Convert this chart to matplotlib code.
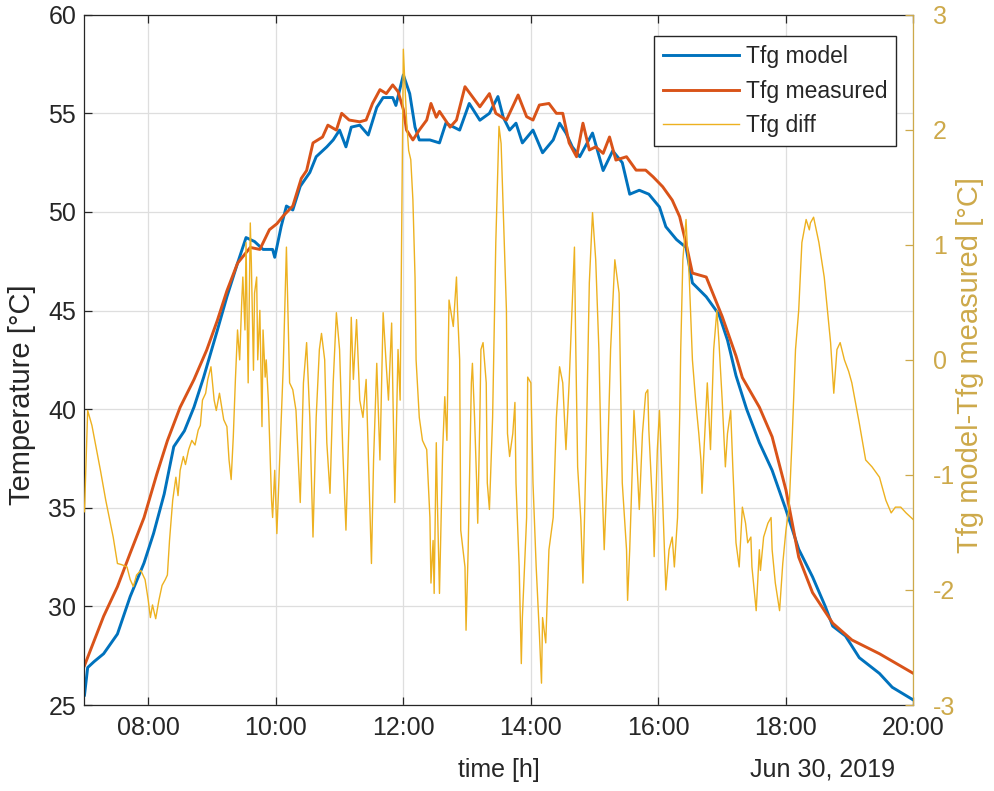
import numpy as np
import matplotlib
matplotlib.use("Agg")
import matplotlib.pyplot as plt
import matplotlib.dates as mdates

plt.rcParams["font.family"] = ["Liberation Sans", "DejaVu Sans"]
plt.rcParams["axes.unicode_minus"] = False

# Day of the measurement; all series are given in minutes after 07:00
day_start = np.datetime64("2019-06-30T07:00")

# Tfg model [°C]
model_min = [0, 3, 9, 18, 31, 43, 56, 65, 75, 84,
             94, 103, 112, 125, 134, 144, 152, 160, 168, 177,
             179, 185, 190, 196, 203, 212, 218, 228, 234, 240,
             246, 251, 259, 267, 275, 281, 290, 293, 300, 306,
             311, 315, 325, 334, 340, 353, 362, 372, 381, 389,
             394, 400, 406, 412, 422, 431, 441, 447, 453, 459,
             466, 478, 488, 497, 506, 513, 522, 531, 541, 547,
             557, 566, 572, 585, 597, 605, 613, 623, 635, 647,
             660, 672, 685, 697, 704, 716, 729, 748, 760, 780]
model_temp = [25.5, 26.9, 27.2, 27.6, 28.6, 30.5, 32.2, 33.7, 35.7, 38.1,
              38.9, 40.1, 41.6, 44.0, 45.7, 47.4, 48.7, 48.5, 48.1, 48.1,
              47.7, 49.25, 50.3, 50.1, 51.3, 52.0, 52.8, 53.3, 53.65, 54.15,
              53.3, 54.3, 54.4, 53.9, 55.3, 55.8, 55.8, 55.4, 56.95, 56.0,
              54.3, 53.65, 53.65, 53.5, 54.5, 54.15, 55.5, 54.65, 55.0, 55.85,
              54.8, 54.15, 54.5, 53.5, 54.15, 53.0, 53.65, 54.5, 54.0, 53.3,
              52.8, 54.0, 52.1, 53.1, 52.5, 50.9, 51.1, 50.9, 50.25, 49.25,
              48.6, 48.2, 46.4, 45.7, 44.8, 43.5, 41.7, 40.0, 38.3, 36.9,
              34.9, 32.9, 31.5, 30.0, 29.0, 28.5, 27.4, 26.6, 25.9, 25.25]

# Tfg measured [°C]
meas_min = [0, 18, 31, 43, 56, 68, 78, 90, 103, 115,
            125, 134, 144, 156, 165, 174, 181, 187, 196, 204,
            209, 215, 224, 229, 237, 242, 249, 259, 265, 271,
            278, 284, 290, 295, 300, 303, 309, 315, 322, 326,
            331, 334, 344, 350, 358, 365, 372, 381, 387, 397,
            408, 416, 422, 428, 437, 444, 450, 456, 463, 469,
            475, 481, 488, 494, 500, 510, 519, 528, 535, 544,
            553, 560, 566, 572, 585, 591, 600, 613, 619, 635,
            647, 660, 672, 685, 704, 722, 748, 780]
meas_temp = [27.0, 29.5, 31.0, 32.7, 34.5, 36.7, 38.4, 40.1, 41.5, 43.0,
             44.5, 46.0, 47.4, 48.2, 48.1, 49.1, 49.4, 49.8, 50.3, 51.7,
             52.1, 53.5, 53.8, 54.4, 54.15, 55.0, 54.66, 54.57, 54.66, 55.5,
             56.2, 56.0, 56.44, 56.1, 55.2, 54.15, 53.65, 54.15, 54.66, 55.5,
             54.8, 55.1, 54.3, 54.66, 56.35, 55.84, 55.33, 56.0, 55.0, 54.66,
             55.93, 54.83, 54.66, 55.42, 55.5, 55.0, 55.0, 53.5, 52.8, 54.5,
             53.14, 53.3, 52.97, 53.8, 52.63, 52.8, 52.12, 52.12, 51.78, 51.28,
             50.6, 49.76, 48.4, 46.9, 46.7, 45.9, 44.7, 42.7, 41.6, 40.1,
             38.6, 35.9, 32.5, 30.7, 29.15, 28.3, 27.6, 26.6]

# Tfg diff, model minus measured [°C]
diff_min = [0, 3, 7, 15, 20, 27, 31, 35, 40, 43, 46, 49, 53, 57, 60, 62, 64, 67, 70, 73,
            76, 78, 80, 83, 86, 88, 90, 93, 95, 98, 101, 104, 107, 109, 111, 114, 116, 119, 122, 124,
            127, 131, 134, 136, 138, 140, 142, 144,
            146, 148, 149, 151, 152, 154, 156, 157, 159, 160, 162, 163, 165, 167, 168, 170, 171, 173,
            176, 177, 179, 181,
            184, 187, 190, 193, 196, 199, 203, 206, 209, 212, 215, 218, 221, 223, 226, 228, 231, 234,
            237, 240, 243, 246, 249, 251, 253, 256, 259, 262, 265, 268, 270, 272, 275, 278, 281, 284,
            286, 289, 292, 295, 297, 300,
            303, 305, 307, 309, 311, 312, 315, 318, 322, 325, 326, 328, 329, 331, 332, 334, 337, 339,
            341, 343, 347, 350, 351, 353, 354, 358, 359, 361, 364, 365, 367, 369, 370, 372, 373, 375,
            378, 379, 381, 383, 384, 387, 390, 392, 395, 397, 398, 400, 403, 405, 406, 409, 411, 412,
            416, 417, 420,
            422, 425, 428, 430, 431, 434, 437, 441, 444, 447, 450, 453, 456, 459, 461, 462, 464, 467,
            469, 472, 475, 478, 481, 484, 486, 489, 492, 495, 499, 503, 506, 510, 511, 513, 516, 517,
            520, 522, 525, 528, 530, 531, 535, 536, 539, 541, 544, 547, 550, 553, 555, 558, 560, 561,
            563, 566, 567, 569, 572, 575, 578, 580, 581, 583, 586, 589, 592, 595, 597, 600, 603, 605,
            608, 610, 613, 616, 619, 622, 624, 627, 628, 632, 635, 636, 639, 643, 646, 647, 650, 654,
            657, 660, 663, 666, 669, 672, 675, 679, 682, 683, 686, 691, 696, 699, 702, 705, 708, 711,
            715, 719, 722, 729, 735, 741, 748, 754, 759, 763, 768, 773, 780]
diff_val = [-1.32, -0.44, -0.57, -0.96, -1.22, -1.54, -1.77, -1.78, -1.80, -1.91,
            -1.97, -1.87, -1.83, -1.91, -2.09, -2.24, -2.13, -2.25, -2.09, -1.96,
            -1.91, -1.87, -1.57, -1.22, -1.02, -1.18, -0.96, -0.84, -0.91, -0.78,
            -0.70, -0.74, -0.61, -0.57, -0.35, -0.29, -0.17, -0.06, -0.35, -0.44,
            -0.29, -0.52, -0.58, -0.87, -1.04, -0.67, -0.17, 0.26,
            0.00, 0.52, 0.72, 0.26, 1.02, -0.20, 1.19, 0.84, -0.09, 0.58,
            0.72, 0.00, 0.43, -0.58, 0.26, -0.15, 0.00, -0.35, -1.22, -1.37,
            -0.96, -1.51,
            -0.78, -0.06, 0.98, -0.20, -0.26, -0.44, -1.24, -0.20, 0.15, -0.50,
            -1.54, -0.50, 0.09, 0.23, 0.00, -0.72, -1.16, -0.20, 0.41, 0.09,
            -0.78, -1.48, -0.50, 0.37, -0.17, 0.35, -0.35, -0.50, -0.17, -1.13,
            -1.77, -0.87, -0.03, -0.87, 0.41, -0.06, -0.35, 0.32, -1.24, 0.09,
            -0.35, 2.70,
            2.09, 1.82, 1.74, 1.39, 0.72, 0.00, -0.50, -0.70, -0.78, -1.37,
            -1.94, -1.57, -2.03, -0.72, -1.22, -2.03, -0.78, -0.32, -0.70, 0.52,
            0.29, 0.72, 0.43, 0.00, -1.48, -1.80, -2.35, -1.65, -0.20, -0.03,
            -0.50, -1.07, -1.42, -0.50, 0.09, 0.15, -0.20, -1.07, -1.30, -0.78,
            -0.50, 1.02, 2.03, 1.88, 1.02, 0.43, -0.64, -0.84, -0.64, -0.37,
            -1.07, -1.80, -2.64, -2.24, -1.37, -0.15, -0.20,
            -1.07, -1.80, -2.38, -2.81, -2.24, -2.46, -1.65, -1.37, -0.50, -0.06,
            -0.20, -0.78, -0.20, 0.52, 0.98, 0.26, -0.93, -1.39, -1.94, -0.78,
            0.67, 1.28, 0.87, 0.09, -0.78, -1.65, -0.93, 0.09, 0.87, 0.58,
            -1.07, -1.65, -2.09, -1.65, -0.78, -0.44, -0.93, -1.30, -0.64, -0.29,
            -0.26, -0.61, -1.37, -1.71, -0.78, -0.44, -1.22, -2.00, -1.65, -1.54,
            -1.80, -1.37, -0.50, 0.09,
            0.87, 1.22, 1.02, 0.72, 0.00, -0.35, -0.64, -0.87, -1.16, -0.76,
            -0.20, -0.78, 0.09, 0.43, 0.15, -0.35, -0.93, -0.64, -0.44, -0.93,
            -1.59, -1.80, -1.28, -1.42, -1.59, -1.54, -1.80, -2.18, -1.65, -1.83,
            -1.54, -1.42, -1.37, -1.65, -1.94, -2.18, -1.77, -1.48, -1.28, -0.64,
            0.09, 0.43, 1.02, 1.22, 1.13, 1.19, 1.24, 1.02, 0.72, 0.43,
            0.15, -0.29, 0.09, 0.15, 0.00, -0.10, -0.20, -0.55, -0.87, -0.93,
            -1.02, -1.22, -1.33, -1.28, -1.28, -1.33, -1.39]

legend_labels = ["Tfg model", "Tfg measured", "Tfg diff"]
hour_ticks = [8, 10, 12, 14, 16, 18, 20]


def as_time(minutes):
    return day_start + np.asarray(minutes, dtype="timedelta64[m]")


C_MODEL = "#0072BD"
C_MEAS = "#D95319"
C_DIFF = "#EDB120"
C_RIGHT = "#CDA94A"
C_AXIS = "#262626"

TICK_FS = 18
LABEL_FS = 21

fig = plt.figure(figsize=(9.94, 7.91), dpi=100)
ax = fig.add_axes([0.085, 0.1087, 0.834, 0.8727])
ax2 = ax.twinx()

l1, = ax.plot(as_time(model_min), model_temp, color=C_MODEL, lw=2.1)
l2, = ax.plot(as_time(meas_min), meas_temp, color=C_MEAS, lw=2.1)
l3, = ax2.plot(as_time(diff_min), diff_val, color=C_DIFF, lw=1.0)

ax.set_xlim(day_start, day_start + np.timedelta64(13 * 60, "m"))
ax.set_ylim(25, 60)
ax.set_yticks(range(25, 61, 5))
ax2.set_ylim(-3, 3)
ax2.set_yticks(range(-3, 4))

ax.xaxis.set_major_locator(mdates.HourLocator(byhour=hour_ticks))
ax.xaxis.set_major_formatter(mdates.DateFormatter("%H:%M"))

ax.grid(True, color="#DEDEDE", lw=0.9)
ax.set_axisbelow(True)

ax.tick_params(axis="both", direction="in", length=6, width=0.9,
               colors=C_AXIS, labelsize=TICK_FS, top=True, right=False)
ax.tick_params(axis="x", pad=8)
ax.tick_params(axis="y", pad=6)
ax2.tick_params(axis="y", direction="in", length=6, width=0.9,
                colors=C_RIGHT, labelsize=TICK_FS, pad=14)

for side in ("left", "bottom", "top"):
    ax.spines[side].set_color(C_AXIS)
    ax.spines[side].set_linewidth(0.9)
    ax2.spines[side].set_visible(False)
ax.spines["right"].set_visible(False)
ax2.spines["right"].set_color(C_RIGHT)
ax2.spines["right"].set_linewidth(0.9)

ax.set_xlabel("time [h]", fontsize=TICK_FS, color=C_AXIS)
ax.xaxis.set_label_coords(0.5, -0.094)
ax.xaxis.label.set_va("center")

ax.set_ylabel("Temperature [°C]", fontsize=LABEL_FS, color=C_AXIS)
ax.yaxis.set_label_coords(-0.0754, 0.449)
ax.yaxis.label.set_va("center")

ax2.set_ylabel("Tfg model-Tfg measured [°C]", fontsize=LABEL_FS, color=C_RIGHT)
ax2.yaxis.set_label_coords(1.068, 0.4925)
ax2.yaxis.label.set_va("center")

fig.text(822 / 994, 1 - 770 / 791, "Jun 30, 2019", ha="center", va="center",
         fontsize=TICK_FS, color=C_AXIS)

leg = ax2.legend([l1, l2, l3], legend_labels, loc="upper left",
                 bbox_to_anchor=(0.687, 0.969), borderaxespad=0,
                 fontsize=16.5, frameon=True, fancybox=False, framealpha=1,
                 edgecolor=C_AXIS, borderpad=0.4, handlelength=3.3,
                 handletextpad=0.3, labelspacing=0.5)
leg.get_frame().set_linewidth(1.0)
for txt in leg.get_texts():
    txt.set_color(C_AXIS)

fig.savefig("out.png", dpi=100)
